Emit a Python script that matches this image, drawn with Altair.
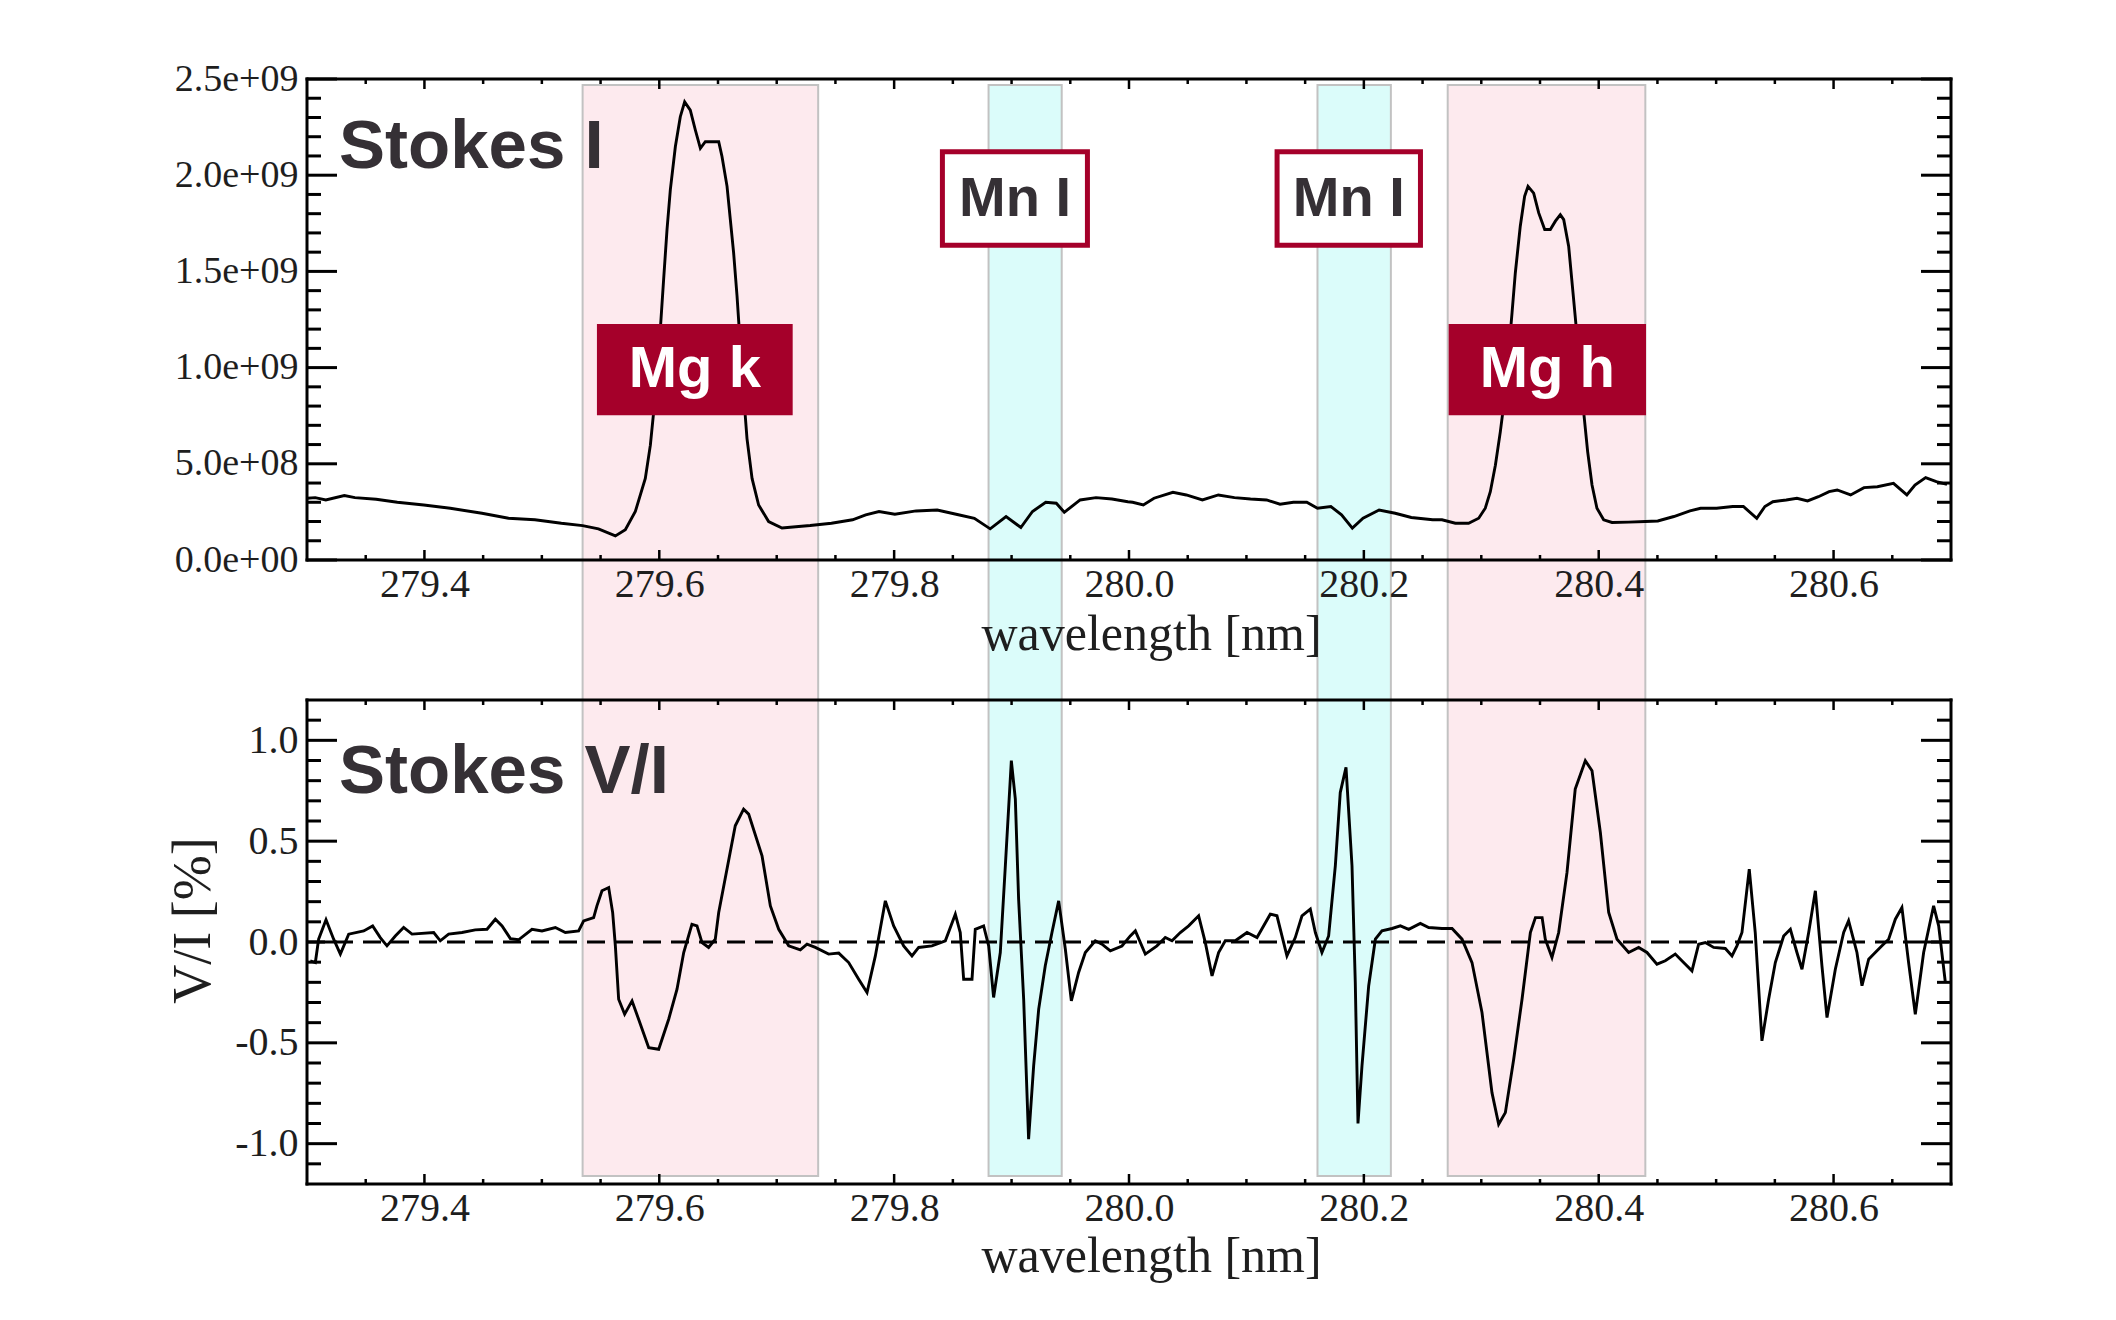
import altair as alt
import pandas as pd

# ---------------- data ----------------
# Stokes I spectrum (wavelength in nm, intensity)
i_wave = [279.3002, 279.3070, 279.3160, 279.3318, 279.3408, 279.3589, 279.3769, 279.3995, 279.4220,
          279.4490, 279.4716, 279.4941, 279.5166, 279.5347, 279.5482, 279.5626, 279.5711, 279.5796,
          279.5881, 279.5924, 279.5952, 279.5981, 279.6009, 279.6037, 279.6066, 279.6094, 279.6137,
          279.6179, 279.6216, 279.6264, 279.6307, 279.6350, 279.6392, 279.6463, 279.6506, 279.6534,
          279.6577, 279.6605, 279.6633, 279.6662, 279.6690, 279.6719, 279.6747, 279.6790, 279.6846,
          279.6931, 279.7045, 279.7187, 279.7285, 279.7466, 279.7646, 279.7758, 279.7871, 279.8006,
          279.8187, 279.8367, 279.8547, 279.8683, 279.8818, 279.8953, 279.9079, 279.9178, 279.9291,
          279.9381, 279.9449, 279.9584, 279.9719, 279.9855, 279.9990, 280.0031, 280.0122, 280.0213,
          280.0374, 280.0488, 280.0625, 280.0761, 280.0898, 280.1035, 280.1172, 280.1286, 280.1400,
          280.1514, 280.1605, 280.1719, 280.1810, 280.1902, 280.1993, 280.2130, 280.2267, 280.2404,
          280.2586, 280.2665, 280.2779, 280.2892, 280.2978, 280.3034, 280.3077, 280.3120, 280.3162,
          280.3205, 280.3233, 280.3262, 280.3290, 280.3332, 280.3369, 280.3398, 280.3446, 280.3489,
          280.3540, 280.3588, 280.3631, 280.3673, 280.3702, 280.3744, 280.3781, 280.3815, 280.3844,
          280.3872, 280.3906, 280.3943, 280.3985, 280.4042, 280.4113, 280.4255, 280.4397, 280.4503,
          280.4640, 280.4777, 280.4868, 280.5004, 280.5141, 280.5232, 280.5346, 280.5415, 280.5483,
          280.5597, 280.5688, 280.5779, 280.5871, 280.5962, 280.6031, 280.6145, 280.6259, 280.6373,
          280.6510, 280.6624, 280.6693, 280.6784, 280.6875, 280.6966]
i_value = [0.321e9, 0.324e9, 0.312e9, 0.335e9, 0.324e9, 0.316e9, 0.300e9, 0.286e9, 0.269e9,
           0.243e9, 0.217e9, 0.209e9, 0.191e9, 0.179e9, 0.162e9, 0.125e9, 0.157e9, 0.252e9,
           0.424e9, 0.597e9, 0.769e9, 0.976e9, 1.200e9, 1.459e9, 1.718e9, 1.924e9, 2.149e9,
           2.304e9, 2.381e9, 2.338e9, 2.235e9, 2.140e9, 2.174e9, 2.174e9, 2.174e9, 2.097e9,
           1.942e9, 1.769e9, 1.597e9, 1.373e9, 1.114e9, 0.855e9, 0.631e9, 0.424e9, 0.286e9,
           0.200e9, 0.166e9, 0.174e9, 0.179e9, 0.191e9, 0.209e9, 0.235e9, 0.252e9, 0.238e9,
           0.255e9, 0.260e9, 0.235e9, 0.217e9, 0.162e9, 0.226e9, 0.169e9, 0.252e9, 0.300e9,
           0.295e9, 0.248e9, 0.312e9, 0.324e9, 0.317e9, 0.303e9, 0.300e9, 0.286e9, 0.321e9,
           0.352e9, 0.338e9, 0.312e9, 0.338e9, 0.324e9, 0.317e9, 0.312e9, 0.290e9, 0.300e9,
           0.300e9, 0.269e9, 0.278e9, 0.235e9, 0.166e9, 0.217e9, 0.260e9, 0.243e9, 0.221e9,
           0.209e9, 0.209e9, 0.191e9, 0.191e9, 0.217e9, 0.269e9, 0.355e9, 0.493e9, 0.666e9,
           0.873e9, 1.079e9, 1.286e9, 1.493e9, 1.735e9, 1.890e9, 1.942e9, 1.907e9, 1.804e9,
           1.718e9, 1.718e9, 1.761e9, 1.795e9, 1.769e9, 1.631e9, 1.390e9, 1.166e9, 0.959e9,
           0.769e9, 0.562e9, 0.390e9, 0.269e9, 0.209e9, 0.195e9, 0.197e9, 0.200e9, 0.203e9,
           0.226e9, 0.255e9, 0.269e9, 0.269e9, 0.278e9, 0.278e9, 0.217e9, 0.278e9, 0.303e9,
           0.312e9, 0.321e9, 0.307e9, 0.329e9, 0.355e9, 0.364e9, 0.338e9, 0.376e9, 0.381e9,
           0.398e9, 0.338e9, 0.390e9, 0.428e9, 0.407e9, 0.393e9]

# Stokes V/I spectrum (wavelength in nm, percent)
v_wave = [279.3028, 279.3071, 279.3099, 279.3162, 279.3227, 279.3284, 279.3355, 279.3483, 279.3559,
          279.3624, 279.3681, 279.3752, 279.3823, 279.3894, 279.4079, 279.4135, 279.4206, 279.4320,
          279.4433, 279.4533, 279.4604, 279.4661, 279.4732, 279.4802, 279.4916, 279.5001, 279.5115,
          279.5200, 279.5313, 279.5356, 279.5441, 279.5469, 279.5512, 279.5569, 279.5603, 279.5626,
          279.5654, 279.5705, 279.5768, 279.5824, 279.5910, 279.5995, 279.6080, 279.6151, 279.6208,
          279.6278, 279.6321, 279.6364, 279.6420, 279.6477, 279.6506, 279.6647, 279.6718, 279.6761,
          279.6875, 279.6946, 279.7017, 279.7102, 279.7201, 279.7258, 279.7329, 279.7442, 279.7528,
          279.7613, 279.7698, 279.7769, 279.7840, 279.7925, 279.7996, 279.8081, 279.8152, 279.8209,
          279.8322, 279.8436, 279.8521, 279.8563, 279.8592, 279.8663, 279.8691, 279.8762, 279.8805,
          279.8847, 279.8904, 279.8947, 279.8998, 279.9032, 279.9060, 279.9103, 279.9145, 279.9188,
          279.9231, 279.9287, 279.9344, 279.9401, 279.9458, 279.9509, 279.9571, 279.9628, 279.9713,
          279.9770, 279.9841, 279.9940, 280.0011, 280.0054, 280.0139, 280.0238, 280.0309, 280.0366,
          280.0437, 280.0508, 280.0593, 280.0650, 280.0707, 280.0763, 280.0820, 280.0905, 280.1005,
          280.1090, 280.1203, 280.1260, 280.1345, 280.1416, 280.1473, 280.1544, 280.1587, 280.1643,
          280.1700, 280.1757, 280.1799, 280.1848, 280.1899, 280.1927, 280.1950, 280.1984, 280.2041,
          280.2098, 280.2154, 280.2240, 280.2311, 280.2382, 280.2481, 280.2552, 280.2665, 280.2751,
          280.2836, 280.2921, 280.3006, 280.3091, 280.3148, 280.3205, 280.3276, 280.3347, 280.3418,
          280.3461, 280.3518, 280.3545, 280.3602, 280.3659, 280.3730, 280.3800, 280.3886, 280.3943,
          280.4014, 280.4085, 280.4156, 280.4255, 280.4340, 280.4411, 280.4496, 280.4567, 280.4652,
          280.4723, 280.4794, 280.4851, 280.4908, 280.4979, 280.5078, 280.5135, 280.5177, 280.5220,
          280.5282, 280.5333, 280.5390, 280.5447, 280.5504, 280.5575, 280.5632, 280.5688, 280.5731,
          280.5788, 280.5845, 280.5901, 280.5944, 280.6015, 280.6086, 280.6128, 280.6199, 280.6242,
          280.6299, 280.6355, 280.6412, 280.6469, 280.6526, 280.6582, 280.6639, 280.6696, 280.6767,
          280.6852, 280.6895, 280.6952]
v_value = [-0.094, -0.102, 0.014, 0.110, 0.014, -0.060, 0.039, 0.055, 0.080,
           0.022, -0.019, 0.030, 0.072, 0.039, 0.047, 0.006, 0.039, 0.047,
           0.060, 0.063, 0.113, 0.080, 0.017, 0.011, 0.063, 0.055, 0.072,
           0.047, 0.055, 0.105, 0.121, 0.179, 0.254, 0.270, 0.146, -0.019,
           -0.284, -0.358, -0.292, -0.383, -0.524, -0.532, -0.383, -0.234, -0.052,
           0.088, 0.080, -0.003, -0.027, 0.014, 0.146, 0.576, 0.659, 0.634,
           0.427, 0.179, 0.063, -0.019, -0.039, -0.011, -0.027, -0.060, -0.055,
           -0.102, -0.185, -0.251, -0.069, 0.204, 0.080, -0.019, -0.069, -0.027,
           -0.019, 0.006, 0.138, 0.047, -0.185, -0.185, 0.063, 0.080, -0.019,
           -0.275, -0.052, 0.378, 0.899, 0.709, 0.212, -0.284, -0.978, -0.614,
           -0.333, -0.118, 0.047, 0.204, -0.036, -0.292, -0.151, -0.052, 0.006,
           -0.011, -0.044, -0.020, 0.030, 0.055, -0.060, -0.019, 0.022, 0.006,
           0.047, 0.080, 0.130, -0.003, -0.168, -0.052, 0.006, 0.006, 0.047,
           0.022, 0.138, 0.130, -0.069, 0.022, 0.130, 0.163, 0.047, -0.052,
           0.030, 0.378, 0.741, 0.866, 0.378, -0.201, -0.900, -0.614, -0.218,
           0.014, 0.055, 0.067, 0.080, 0.063, 0.092, 0.072, 0.067, 0.067,
           0.014, -0.102, -0.350, -0.747, -0.904, -0.846, -0.581, -0.284, 0.047,
           0.121, 0.121, 0.014, -0.077, 0.047, 0.345, 0.758, 0.899, 0.849,
           0.543, 0.146, 0.014, -0.052, -0.027, -0.052, -0.110, -0.093, -0.060,
           -0.102, -0.143, -0.011, -0.003, -0.027, -0.032, -0.069, -0.019, 0.047,
           0.361, 0.047, -0.490, -0.284, -0.102, 0.030, 0.063, -0.052, -0.135,
           0.047, 0.254, -0.118, -0.375, -0.135, 0.047, 0.105, -0.052, -0.217,
           -0.085, -0.052, -0.019, 0.014, 0.113, 0.171, -0.102, -0.358, -0.052,
           0.179, 0.080, -0.201]

# highlighted line bands
band_start = [279.5347, 279.8804, 280.1605, 280.2714]
band_end = [279.7353, 279.9427, 280.2230, 280.4397]
band_color = ["#fdeaee", "#dbfcfa", "#dbfcfa", "#fdeaee"]

# label boxes (data coordinates of the top panel)
mg_text = ["Mg k", "Mg h"]
mg_x1 = [279.5469, 280.2722]
mg_x2 = [279.7136, 280.4403]
mg_y1 = [1.226e9, 1.226e9]
mg_y2 = [0.752e9, 0.752e9]
mg_xc = [279.6303, 280.3562]
mg_yc = [0.989e9, 0.989e9]

mn_text = ["Mn I", "Mn I"]
mn_x1 = [279.8411, 280.1261]
mn_x2 = [279.9646, 280.2482]
mn_y1 = [2.122e9, 2.122e9]
mn_y2 = [1.636e9, 1.636e9]
mn_xc = [279.9029, 280.1872]
mn_yc = [1.878e9, 1.878e9]

panel_title_top = ["Stokes I"]
panel_title_top_x = [279.3273]
panel_title_top_y = [2.035e9]
panel_title_bot = ["Stokes V/I"]
panel_title_bot_x = [279.3273]
panel_title_bot_y = [0.74]

zero_level = [0.0]

# axis ticks
x_labels = [279.4, 279.6, 279.8, 280.0, 280.2, 280.4, 280.6]
x_minor = [279.35, 279.45, 279.5, 279.55, 279.65, 279.7, 279.75, 279.85, 279.9, 279.95,
           280.05, 280.1, 280.15, 280.25, 280.3, 280.35, 280.45, 280.5, 280.55, 280.65]
i_labels = [0.0, 5e8, 1e9, 1.5e9, 2e9, 2.5e9]
i_minor = [1e8, 2e8, 3e8, 4e8, 6e8, 7e8, 8e8, 9e8, 1.1e9, 1.2e9, 1.3e9, 1.4e9,
           1.6e9, 1.7e9, 1.8e9, 1.9e9, 2.1e9, 2.2e9, 2.3e9, 2.4e9]
v_labels = [-1.0, -0.5, 0.0, 0.5, 1.0]
v_minor = [-1.1, -0.9, -0.8, -0.7, -0.6, -0.4, -0.3, -0.2, -0.1,
           0.1, 0.2, 0.3, 0.4, 0.6, 0.7, 0.8, 0.9, 1.1]

# ---------------- layout / style ----------------
W = 1644
H1 = 481
H2 = 484
SP = 140
RED = "#a5002a"
DARK = "#353035"
SERIF = "Liberation Serif"
SANS = "Liberation Sans"
INK = "#1e1e1e"

xscale = alt.Scale(domain=[279.3, 280.7], nice=False, zero=False)
iscale = alt.Scale(domain=[0.0, 2.5e9], nice=False, zero=False)
vscale = alt.Scale(domain=[-1.2, 1.2], nice=False, zero=False)


def x_axis(title_y):
    return alt.Axis(values=x_labels, format=".1f", title="wavelength [nm]", ticks=False,
                    tickSize=0, domain=False, grid=False, labelFontSize=40, labelPadding=4,
                    labelFont=SERIF, titleFont=SERIF, titleFontSize=50, titleFontWeight="normal",
                    titleX=844, titleY=title_y, titleBaseline="alphabetic", titleAlign="center",
                    labelColor=INK, titleColor=INK, zindex=1)


i_axis = alt.Axis(values=i_labels, labelExpr="replace(format(datum.value, '.1e'), 'e+', 'e+0')",
                  title=None, ticks=False, tickSize=0, domain=False, grid=False, labelFont=SERIF,
                  labelFontSize=38, labelPadding=9, labelColor=INK, zindex=1)

v_axis = alt.Axis(values=v_labels,
                  labelExpr="(datum.value < 0 ? '-' : '') + format(abs(datum.value), '.1f')",
                  title="V/I [%]", titleFont=SERIF, titleFontSize=54, titleFontWeight="normal",
                  titleColor=INK, titleAngle=270, titleX=-98, titleY=220,
                  titleBaseline="alphabetic", titleAlign="center",
                  ticks=False, tickSize=0, domain=False, grid=False, labelFont=SERIF,
                  labelFontSize=40, labelPadding=9, labelColor=INK, zindex=1)

AX_TOP = x_axis(89)
AX_BOT = x_axis(87)


def tick_layers(H, yvals_major, yvals_minor, yscale, xax, yax):
    layers = []
    for vals, L in ((x_labels, 10), (x_minor, 5)):
        base = alt.Chart(pd.DataFrame({"t": vals})).mark_rule(color="black", strokeWidth=2.5)
        xe = alt.X("t:Q", scale=xscale, axis=xax)
        layers.append(base.encode(x=xe, y=alt.value(H), y2=alt.value(H - L)))
        layers.append(base.encode(x=xe, y=alt.value(0), y2=alt.value(L)))
    for vals, L in ((yvals_major, 30), (yvals_minor, 14)):
        base = alt.Chart(pd.DataFrame({"t": vals})).mark_rule(color="black", strokeWidth=3)
        ye = alt.Y("t:Q", scale=yscale, axis=yax)
        layers.append(base.encode(y=ye, x=alt.value(0), x2=alt.value(L)))
        layers.append(base.encode(y=ye, x=alt.value(W), x2=alt.value(W - L)))
    return layers


def frame_layers(H):
    base = alt.Chart(pd.DataFrame({"k": [0]})).mark_rule(color="black", strokeWidth=3,
                                                        strokeCap="square")
    return [
        base.encode(x=alt.value(0), x2=alt.value(W), y=alt.value(0)),
        base.encode(x=alt.value(0), x2=alt.value(W), y=alt.value(H)),
        base.encode(y=alt.value(0), y2=alt.value(H), x=alt.value(0)),
        base.encode(y=alt.value(0), y2=alt.value(H), x=alt.value(W)),
    ]


bands_df = pd.DataFrame({"start": band_start, "end": band_end, "color": band_color})

# ---------------- top panel ----------------
def XT(f):
    return alt.X(f, scale=xscale, axis=AX_TOP)


def YT(f):
    return alt.Y(f, scale=iscale, axis=i_axis)


top_bands = alt.Chart(bands_df).mark_rect(stroke="#c2c2c2", strokeWidth=2).encode(
    x=XT("start:Q"),
    x2="end:Q",
    y=alt.value(6),
    y2=alt.value(H1 + SP),
    fill=alt.Fill("color:N", scale=None),
)

top_line = alt.Chart(pd.DataFrame({"w": i_wave, "I": i_value})).mark_line(
    color="black", strokeWidth=2.9).encode(
    x=XT("w:Q"),
    y=YT("I:Q"),
    order=alt.Order("w:Q"),
)

mg_df = pd.DataFrame({"text": mg_text, "x1": mg_x1, "x2": mg_x2, "y1": mg_y1, "y2": mg_y2,
                      "xc": mg_xc, "yc": mg_yc})
mn_df = pd.DataFrame({"text": mn_text, "x1": mn_x1, "x2": mn_x2, "y1": mn_y1, "y2": mn_y2,
                      "xc": mn_xc, "yc": mn_yc})

mg_boxes = alt.Chart(mg_df).mark_rect(color=RED).encode(
    x=XT("x1:Q"), x2="x2:Q", y=YT("y1:Q"), y2="y2:Q")
mg_labels = alt.Chart(mg_df).mark_text(font=SANS, fontWeight="bold", fontSize=58, color="white",
                                       align="center", baseline="middle").encode(
    x=XT("xc:Q"), y=YT("yc:Q"), text="text:N")
mn_boxes = alt.Chart(mn_df).mark_rect(fill="white", stroke=RED, strokeWidth=5).encode(
    x=XT("x1:Q"), x2="x2:Q", y=YT("y1:Q"), y2="y2:Q")
mn_labels = alt.Chart(mn_df).mark_text(font=SANS, fontWeight="bold", fontSize=56, color=DARK,
                                       align="center", baseline="middle").encode(
    x=XT("xc:Q"), y=YT("yc:Q"), text="text:N")
top_title = alt.Chart(pd.DataFrame({"t": panel_title_top, "x": panel_title_top_x,
                                    "y": panel_title_top_y})).mark_text(
    font=SANS, fontWeight="bold", fontSize=69, color=DARK, align="left",
    baseline="alphabetic").encode(x=XT("x:Q"), y=YT("y:Q"), text="t:N")

top = alt.layer(
    top_bands, top_line, *tick_layers(H1, i_labels, i_minor, iscale, AX_TOP, i_axis),
    *frame_layers(H1), mn_boxes, mn_labels, mg_boxes, mg_labels, top_title,
).properties(width=W, height=H1)


# ---------------- bottom panel ----------------
def XB(f):
    return alt.X(f, scale=xscale, axis=AX_BOT)


def YB(f):
    return alt.Y(f, scale=vscale, axis=v_axis)


bot_bands = alt.Chart(bands_df).mark_rect(stroke="#c2c2c2", strokeWidth=2).encode(
    x=XB("start:Q"),
    x2="end:Q",
    y=alt.value(0),
    y2=alt.value(H2 - 8),
    fill=alt.Fill("color:N", scale=None),
)

zero_line = alt.Chart(pd.DataFrame({"z": zero_level})).mark_rule(
    color="black", strokeWidth=3, strokeDash=[18, 10]).encode(
    y=YB("z:Q"), x=alt.value(0), x2=alt.value(W))

bot_line = alt.Chart(pd.DataFrame({"w": v_wave, "V": v_value})).mark_line(
    color="black", strokeWidth=2.9).encode(
    x=XB("w:Q"),
    y=YB("V:Q"),
    order=alt.Order("w:Q"),
)

bot_title = alt.Chart(pd.DataFrame({"t": panel_title_bot, "x": panel_title_bot_x,
                                    "y": panel_title_bot_y})).mark_text(
    font=SANS, fontWeight="bold", fontSize=69, color=DARK, align="left",
    baseline="alphabetic").encode(x=XB("x:Q"), y=YB("y:Q"), text="t:N")

bottom = alt.layer(
    bot_bands, zero_line, bot_line, *tick_layers(H2, v_labels, v_minor, vscale, AX_BOT, v_axis),
    *frame_layers(H2), bot_title,
).properties(width=W, height=H2)

chart = alt.vconcat(top, bottom, spacing=SP, bounds="flush").properties(
    padding={"left": 166, "top": 60, "right": 10, "bottom": 10},
    background="white",
).configure_view(stroke=None)

chart.save("out.html", embed_options={"renderer": "svg", "actions": False})
